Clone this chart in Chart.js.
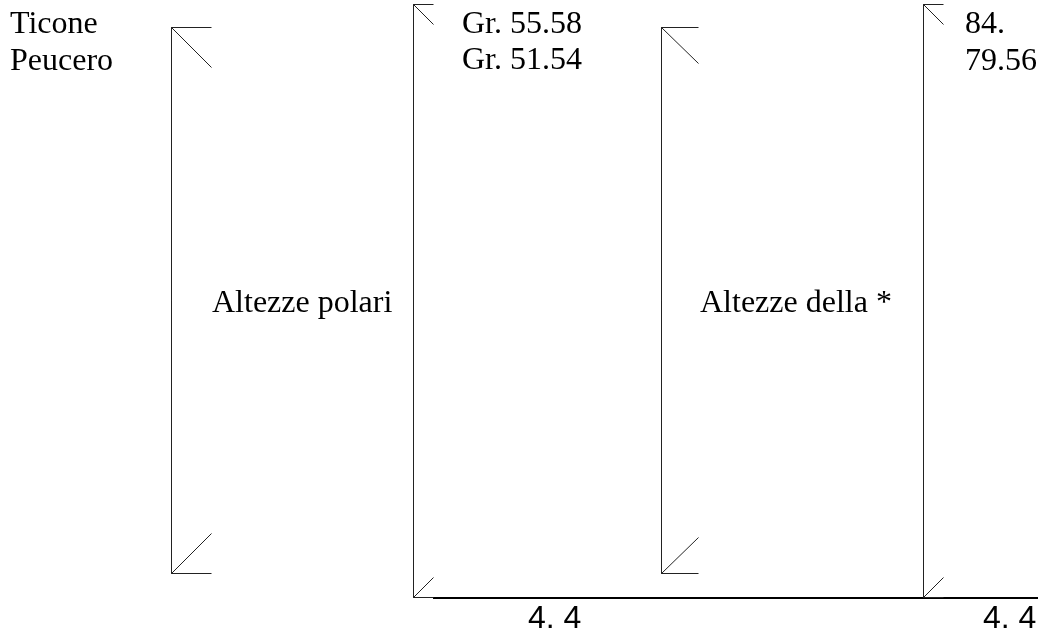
<!DOCTYPE html>
<html>
<head>
<meta charset="utf-8">
<script src="https://cdn.jsdelivr.net/npm/chart.js@4"></script>
<style>
  html, body { margin: 0; padding: 0; background: #fff; }
  #wrap { width: 1042px; height: 637px; position: relative; }
</style>
</head>
<body>
<div id="wrap"><canvas id="diagram"></canvas></div>
<script>
// text values of the diagram
var observers = ["Ticone", "Peucero"];
var polarAltitudes = ["Gr. 55.58", "Gr. 51.54"];
var starAltitudes = ["84.", "79.56"];
var groupTitles = ["Altezze polari", "Altezze della *"];
var baseLabels = ["4. 4", "4. 4"];

// layout of the braces (diagram units = px on a 1042x637 sheet)
var braces = [
  { x: 171.5, top: 27.5, bottom: 573.5, arm: 40, diag: 40 },
  { x: 413.5, top: 4.5, bottom: 597.5, arm: 20, diag: 20 },
  { x: 661.5, top: 27.5, bottom: 573.5, arm: 37, diag: 36 },
  { x: 923.5, top: 4.5, bottom: 597.5, arm: 20, diag: 20 }
];
var baseline = { from: 433, to: 1038, y: 598 };

var serif = '"Liberation Serif", "Times New Roman", serif';
var sans = '"Liberation Sans", Arial, sans-serif';

// build line datasets for the braces
var datasets = [];
braces.forEach(function (b) {
  var line = { borderColor: "#222", borderWidth: 1, pointRadius: 0, showLine: true, fill: false };
  datasets.push(Object.assign({}, line, {
    data: [
      { x: b.x + b.arm, y: b.top },
      { x: b.x, y: b.top },
      { x: b.x, y: b.bottom },
      { x: b.x + b.arm, y: b.bottom }
    ]
  }));
  datasets.push(Object.assign({}, line, {
    data: [{ x: b.x, y: b.top }, { x: b.x + b.arm, y: b.top + b.diag }]
  }));
  datasets.push(Object.assign({}, line, {
    data: [{ x: b.x, y: b.bottom }, { x: b.x + b.arm, y: b.bottom - b.diag }]
  }));
});
datasets.push({
  borderColor: "#000", borderWidth: 2, pointRadius: 0, showLine: true, fill: false,
  data: [{ x: baseline.from, y: baseline.y }, { x: baseline.to, y: baseline.y }]
});

// texts, placed on the diagram scales
var texts = [];
observers.forEach(function (t, i) { texts.push({ text: t, x: 10, y: 33 + i * 37, font: serif }); });
polarAltitudes.forEach(function (t, i) { texts.push({ text: t, x: 462, y: 33 + i * 36, font: serif }); });
starAltitudes.forEach(function (t, i) { texts.push({ text: t, x: 965, y: 33 + i * 37, font: serif }); });
texts.push({ text: groupTitles[0], x: 212, y: 312, font: serif });
texts.push({ text: groupTitles[1], x: 700, y: 312, font: serif });
texts.push({ text: baseLabels[0], x: 528, y: 628, font: sans });
texts.push({ text: baseLabels[1], x: 983, y: 628, font: sans });

var textPlugin = {
  id: "diagramText",
  afterDatasetsDraw: function (chart) {
    var ctx = chart.ctx;
    var xs = chart.scales.x, ys = chart.scales.y;
    ctx.save();
    ctx.fillStyle = "#000";
    ctx.textBaseline = "alphabetic";
    ctx.textAlign = "left";
    texts.forEach(function (t) {
      ctx.font = "32px " + t.font;
      ctx.fillText(t.text, xs.getPixelForValue(t.x), ys.getPixelForValue(t.y));
    });
    ctx.restore();
  }
};

new Chart(document.getElementById("diagram").getContext("2d"), {
  type: "scatter",
  data: { datasets: datasets },
  options: {
    responsive: true,
    maintainAspectRatio: false,
    animation: false,
    layout: { padding: 0 },
    plugins: { legend: { display: false }, tooltip: { enabled: false } },
    scales: {
      x: { type: "linear", min: 0, max: 1042, display: false },
      y: { type: "linear", min: 0, max: 637, reverse: true, display: false }
    }
  },
  plugins: [textPlugin]
});
</script>
</body>
</html>
